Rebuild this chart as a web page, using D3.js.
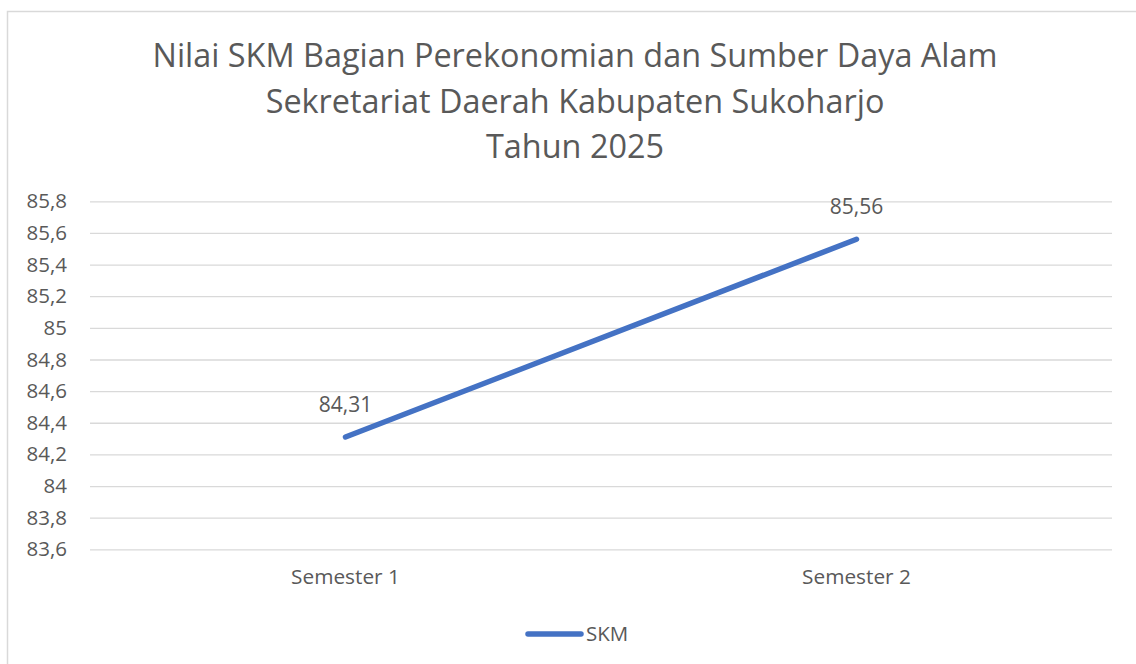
<!DOCTYPE html>
<html>
<head>
<meta charset="utf-8">
<script src="https://cdn.jsdelivr.net/npm/d3@7"></script>
<style>
  body { margin: 0; background: #fff; }
  text { font-family: "Open Sans", sans-serif; fill: #595959; }
</style>
</head>
<body>
<div id="chart"></div>
<script>
var titleLines = ["Nilai SKM Bagian Perekonomian dan Sumber Daya Alam",
                  "Sekretariat Daerah Kabupaten Sukoharjo",
                  "Tahun 2025"];
var categories = ["Semester 1", "Semester 2"];
var skmValues = [84.31, 85.56];
var seriesName = "SKM";
var yTicks = [83.6, 83.8, 84, 84.2, 84.4, 84.6, 84.8, 85, 85.2, 85.4, 85.6, 85.8];

var width = 1136, height = 664;
var plot = {left: 90, right: 1112, top: 201.3, bottom: 549.3};

var locale = d3.formatLocale({decimal: ",", thousands: ".", grouping: [3], currency: ["Rp", ""]});
var fmt = locale.format("~f");

var svg = d3.select("#chart")
    .append("svg")
    .attr("width", width)
    .attr("height", height);

// chart area border
svg.append("rect")
    .attr("x", 7.5)
    .attr("y", 11.5)
    .attr("width", 1135)
    .attr("height", 700)
    .attr("fill", "#fff")
    .attr("stroke", "#d9d9d9")
    .attr("stroke-width", 1.5);

// title
svg.append("g").selectAll("text")
    .data(titleLines)
    .enter().append("text")
    .attr("x", 575)
    .attr("y", function(d, i) { return 67 + i * 45.5; })
    .attr("text-anchor", "middle")
    .style("font-size", "32.4px")
    .text(function(d) { return d; });

var x = d3.scaleBand()
    .domain(categories)
    .range([plot.left, plot.right]);

var y = d3.scaleLinear()
    .domain([d3.min(yTicks), d3.max(yTicks)])
    .range([plot.bottom, plot.top]);

// gridlines + y labels
var yAxis = svg.append("g")
    .attr("transform", "translate(" + plot.left + ",0)")
    .call(d3.axisLeft(y)
        .tickValues(yTicks)
        .tickFormat(fmt)
        .tickSize(-(plot.right - plot.left))
        .tickPadding(23));
yAxis.select(".domain").remove();
yAxis.selectAll(".tick line")
    .attr("stroke", "#d9d9d9")
    .attr("stroke-width", 1.3);
yAxis.selectAll(".tick text")
    .style("font-size", "20.5px")
    .attr("fill", "#595959");

// x labels
var xAxis = svg.append("g")
    .attr("transform", "translate(0," + plot.bottom + ")")
    .call(d3.axisBottom(x).tickSize(0).tickPadding(20));
xAxis.select(".domain").remove();
xAxis.selectAll(".tick text")
    .style("font-size", "20.8px")
    .attr("fill", "#595959");

var pts = categories.map(function(c, i) { return {cat: c, val: skmValues[i]}; });

var line = d3.line()
    .x(function(d) { return x(d.cat) + x.bandwidth() / 2; })
    .y(function(d) { return y(d.val); });

svg.append("path")
    .datum(pts)
    .attr("d", line)
    .attr("fill", "none")
    .attr("stroke", "#4472c4")
    .attr("stroke-width", 5.5)
    .attr("stroke-linecap", "round");

// data labels
svg.append("g").selectAll("text")
    .data(pts)
    .enter().append("text")
    .attr("x", function(d) { return x(d.cat) + x.bandwidth() / 2; })
    .attr("y", function(d) { return y(d.val) - 25; })
    .attr("text-anchor", "middle")
    .style("font-size", "21px")
    .text(function(d) { return fmt(d.val); });

// legend
var legend = svg.append("g");
legend.append("line")
    .attr("x1", 528).attr("x2", 581)
    .attr("y1", 634).attr("y2", 634)
    .attr("stroke", "#4472c4")
    .attr("stroke-width", 5.5)
    .attr("stroke-linecap", "round");
legend.append("text")
    .attr("x", 586)
    .attr("y", 641)
    .style("font-size", "20.5px")
    .text(seriesName);
</script>
</body>
</html>
